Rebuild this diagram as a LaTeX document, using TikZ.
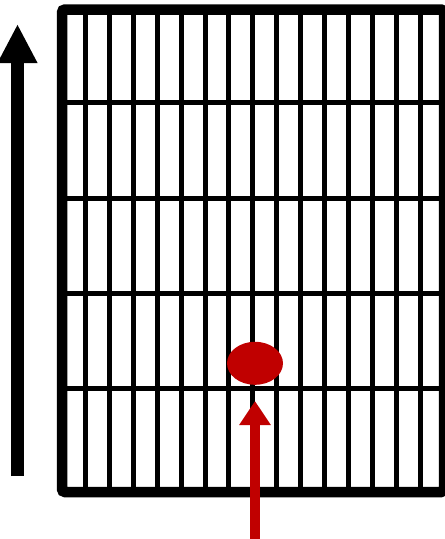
\documentclass[tikz,border=0pt]{standalone}
\usetikzlibrary{arrows.meta,shapes.geometric}
\definecolor{darkred}{HTML}{C00000}
\begin{document}
\begin{tikzpicture}[x=1pt,y=-1pt,
  bar/.style={line width=5pt,black},
  frame/.style={line width=10.5pt,black,rounded corners=3pt},
  bigarrow/.style={line width=13pt,black,-{Triangle[length=39pt,width=37pt]}},
  redarrow/.style={line width=10pt,darkred,-{Triangle[length=24pt,width=30pt]}}]
\useasboundingbox (0,0) rectangle (445,539);
% vertical bars
\foreach \k in {1,...,15}{
  \draw[bar] ({61.6+23.9*\k},9) -- ({61.6+23.9*\k},492);
}
% horizontal bars
\foreach \yy in {102.5,198,293,388.5}{
  \draw[bar] (62,\yy) -- (444,\yy);
}
% frame
\draw[frame] (62,9.5) rectangle (444,492);
% red spot
\node[ellipse,fill=darkred,minimum width=56pt,minimum height=43pt,inner sep=0pt] (spot) at (255,363.3) {};
% arrows
\coordinate (upbot) at (17.5,476);
\coordinate (uptop) at (17.5,24);
\draw[bigarrow] (upbot) -- (uptop);
\coordinate (redbot) at (255,545);
\coordinate (redtop) at (255,401);
\draw[redarrow] (redbot) -- (redtop);
\end{tikzpicture}
\end{document}
